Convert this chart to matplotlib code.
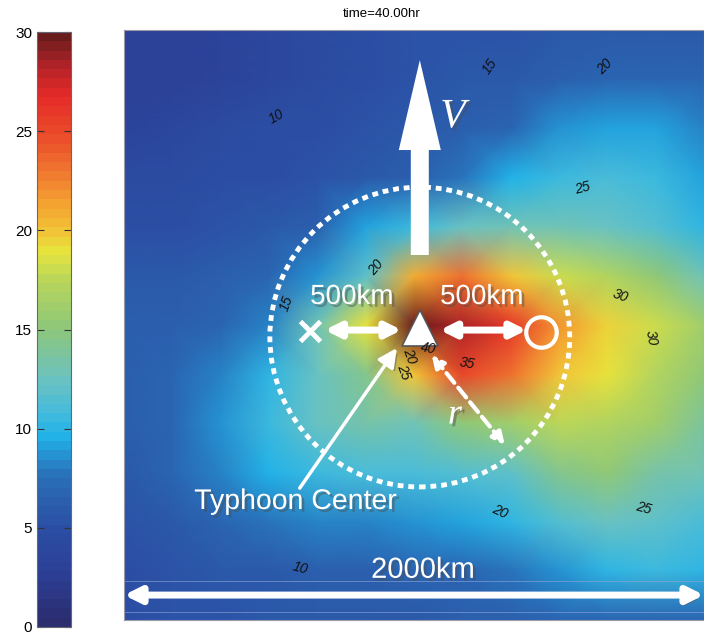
import numpy as np
import matplotlib
matplotlib.use("Agg")
import matplotlib.pyplot as plt
from matplotlib.colors import LinearSegmentedColormap, Normalize
from matplotlib.patches import Circle, FancyArrow
import matplotlib.patheffects as pe

plt.rcParams['font.family'] = ['Liberation Sans', 'DejaVu Sans']

# field grid (km from typhoon centre) and values
grid_x = [-1020, -855, -685, -520, -355, -185, -20, 145, 315, 480, 645, 815, 980]
grid_y = [1060, 890, 720, 550, 380, 210, 40, -130, -295, -470, -640, -805, -975]
field = [
    [3.0, 3.0, 3.5, 4.0, 4.5, 5.0, 5.5, 5.5, 5.5, 6.0, 6.0, 6.0, 6.0],
    [3.0, 3.0, 3.5, 4.0, 4.5, 5.0, 5.5, 6.0, 6.0, 6.5, 7.0, 7.0, 7.0],
    [3.5, 4.0, 4.5, 5.0, 5.0, 5.5, 6.0, 6.5, 7.0, 8.5, 9.0, 9.0, 8.0],
    [4.5, 4.5, 5.0, 5.0, 5.5, 6.0, 6.5, 7.5, 9.5, 10.5, 11.0, 10.5, 9.0],
    [5.0, 5.0, 5.5, 6.0, 6.5, 9.0, 10.5, 12.5, 13.0, 13.0, 12.5, 11.5, 10.0],
    [6.0, 6.0, 6.5, 7.0, 8.5, 12.0, 21.0, 23.0, 20.0, 18.0, 17.0, 15.0, 13.0],
    [6.5, 6.5, 7.0, 8.0, 13.0, 19.0, 30.0, 28.5, 26.0, 22.0, 19.5, 18.0, 16.0],
    [6.5, 7.0, 8.0, 10.0, 12.5, 14.5, 20.0, 25.0, 23.0, 20.0, 19.0, 17.0, 15.0],
    [6.5, 7.0, 8.5, 10.5, 12.5, 13.5, 13.0, 15.0, 16.0, 17.5, 17.0, 16.0, 14.0],
    [6.0, 7.0, 8.0, 9.5, 10.5, 11.0, 11.0, 11.5, 12.0, 14.5, 15.0, 13.5, 13.0],
    [5.5, 6.0, 7.0, 7.5, 8.0, 8.0, 8.5, 9.0, 10.0, 11.5, 12.5, 12.0, 11.0],
    [5.0, 5.5, 6.0, 6.0, 6.5, 6.5, 7.0, 7.0, 7.5, 8.5, 10.0, 10.5, 10.0],
    [5.0, 5.5, 5.5, 6.0, 6.0, 6.0, 6.0, 6.5, 6.5, 7.0, 7.0, 7.0, 7.0],
]

cbar_ticks = [0, 5, 10, 15, 20, 25, 30]

# contour labels: text, x km, y km, rotation
contour_labels = [
    ("10", -493, 759, 30), ("15", 241, 934, 55), ("20", 638, 934, 45),
    ("25", 562, 514, 15), ("20", -152, 241, 50), ("15", -459, 117, 70),
    ("30", 693, 141, -20), ("30", 797, -3, -80), ("35", 162, -90, -10),
    ("40", 28, -38, -10), ("20", -34, -66, -70), ("25", -55, -121, -70),
    ("20", 276, -603, -25), ("25", 770, -590, -15), ("10", -414, -797, -15),
]

colors = ["#2b2d6e", "#2c3e96", "#2b50a5", "#2a6fb8", "#21b2e8", "#4bbcd8",
          "#6cc2c0", "#8cc67a", "#b8d65a", "#e8e43c", "#f2c438", "#f4a030",
          "#f07830", "#ea4a2a", "#e42a28", "#b02228", "#6a1c1c"]
stops = [0, 2.5, 5, 7.5, 9.5, 11, 12.5, 15, 17.5, 19, 20, 21.5, 23, 25, 27, 28.5, 30]
cmap = LinearSegmentedColormap.from_list(
    "jetlike", [(s / 30, c) for s, c in zip(stops, colors)], N=64)
norm = Normalize(0, 30)

fig = plt.figure(figsize=(7.04, 6.37), dpi=100)
ax = fig.add_axes([124 / 704, 17 / 637, 580 / 704, 590 / 637])
mesh = ax.pcolormesh(grid_x, grid_y, np.array(field), cmap=cmap, norm=norm,
                     shading='gouraud')
ax.set_xlim(-1020, 980)
ax.set_ylim(-976, 1059)
ax.set_xticks([])
ax.set_yticks([])
for s in ax.spines.values():
    s.set_color('#9a9aa8')
    s.set_linewidth(0.8)

fig.text(382 / 704, 1 - 14 / 637, "time=40.00hr", ha='center', va='center',
         fontsize=9.5)

for t, x, y, r in contour_labels:
    ax.text(x, y, t, rotation=r, ha='center', va='center', fontsize=10,
            color='#111111', style='italic')

shadow = [pe.SimplePatchShadow(offset=(2, -2), alpha=0.45), pe.Normal()]

# dotted 500 km circle
ax.add_patch(Circle((0, 0), 517, fill=False, ec='white', lw=3.5,
                    ls=(0, (1.2, 1.0))))

# movement arrow V
ax.add_patch(FancyArrow(0, 283, 0, 672, width=62, head_width=145,
                        head_length=310, length_includes_head=True,
                        fc='white', ec='none'))
ax.text(114, 759, "V", fontsize=30, color='white', style='italic',
        family='Liberation Serif', ha='center', va='center', path_effects=shadow)

# double arrows between markers
for x0, x1 in [(-328, -62), (69, 369)]:
    a = ax.annotate("", xy=(x1, 24), xytext=(x0, 24),
                    arrowprops=dict(arrowstyle='<|-|>', color='white', lw=5,
                                    mutation_scale=22, shrinkA=0, shrinkB=0))
    a.arrow_patch.set_path_effects(shadow)

ax.plot(-379, 21, marker='x', ms=15, mew=3.5, color='white', ls='none')
ax.plot(417, 17, marker='o', ms=22, mew=3, mfc='none', mec='white', ls='none')
ax.plot(0, 30, marker='^', ms=26, mfc='white', mec='#555555', mew=1.2,
        ls='none')

for x in [-234, 214]:
    ax.text(x, 138, "500km", fontsize=20, color='white', ha='center',
            va='center', path_effects=shadow)

# typhoon centre pointer
a = ax.annotate("", xy=(-79, -38), xytext=(-414, -521),
                arrowprops=dict(arrowstyle='-|>', color='white', lw=2.5,
                                mutation_scale=28, shrinkA=0, shrinkB=0))
a.arrow_patch.set_path_effects(shadow)
ax.text(-428, -569, "Typhoon Center", fontsize=20.5, color='white',
        ha='center', va='center', path_effects=shadow)

# r arrow
a = ax.annotate("", xy=(293, -372), xytext=(41, -62),
                arrowprops=dict(arrowstyle='<|-|>', color='white', lw=3,
                                ls=(0, (3, 1.5)), mutation_scale=18,
                                shrinkA=0, shrinkB=0))
ax.text(121, -269, "r", fontsize=26, color='white', style='italic',
        family='Liberation Serif', ha='center', va='center', path_effects=shadow)

# 2000 km scale
ax.axhline(-841, color='#8fa6d6', lw=0.6, alpha=0.7)
ax.axhline(-948, color='#8fa6d6', lw=0.6, alpha=0.7)
a = ax.annotate("", xy=(980, -890), xytext=(-1020, -890),
                arrowprops=dict(arrowstyle='<|-|>', color='white', lw=5,
                                mutation_scale=24, shrinkA=0, shrinkB=0))
a.arrow_patch.set_path_effects([pe.SimplePatchShadow(offset=(1, -3), alpha=0.6),
                                pe.Normal()])
ax.text(10, -803, "2000km", fontsize=21, color='white', ha='center',
        va='center', path_effects=shadow)

# colorbar
cax = fig.add_axes([37 / 704, 10 / 637, 34 / 704, 595 / 637])
cb = fig.colorbar(mesh, cax=cax, ticks=cbar_ticks)
cax.yaxis.set_ticks_position('both')
cax.yaxis.set_label_position('left')
cax.tick_params(axis='y', direction='in', length=5, width=0.8,
                labelleft=True, labelright=False, labelsize=11,
                color='#333333')
cb.outline.set_edgecolor('#666677')
cb.outline.set_linewidth(0.8)

fig.savefig("out.png", dpi=100)
